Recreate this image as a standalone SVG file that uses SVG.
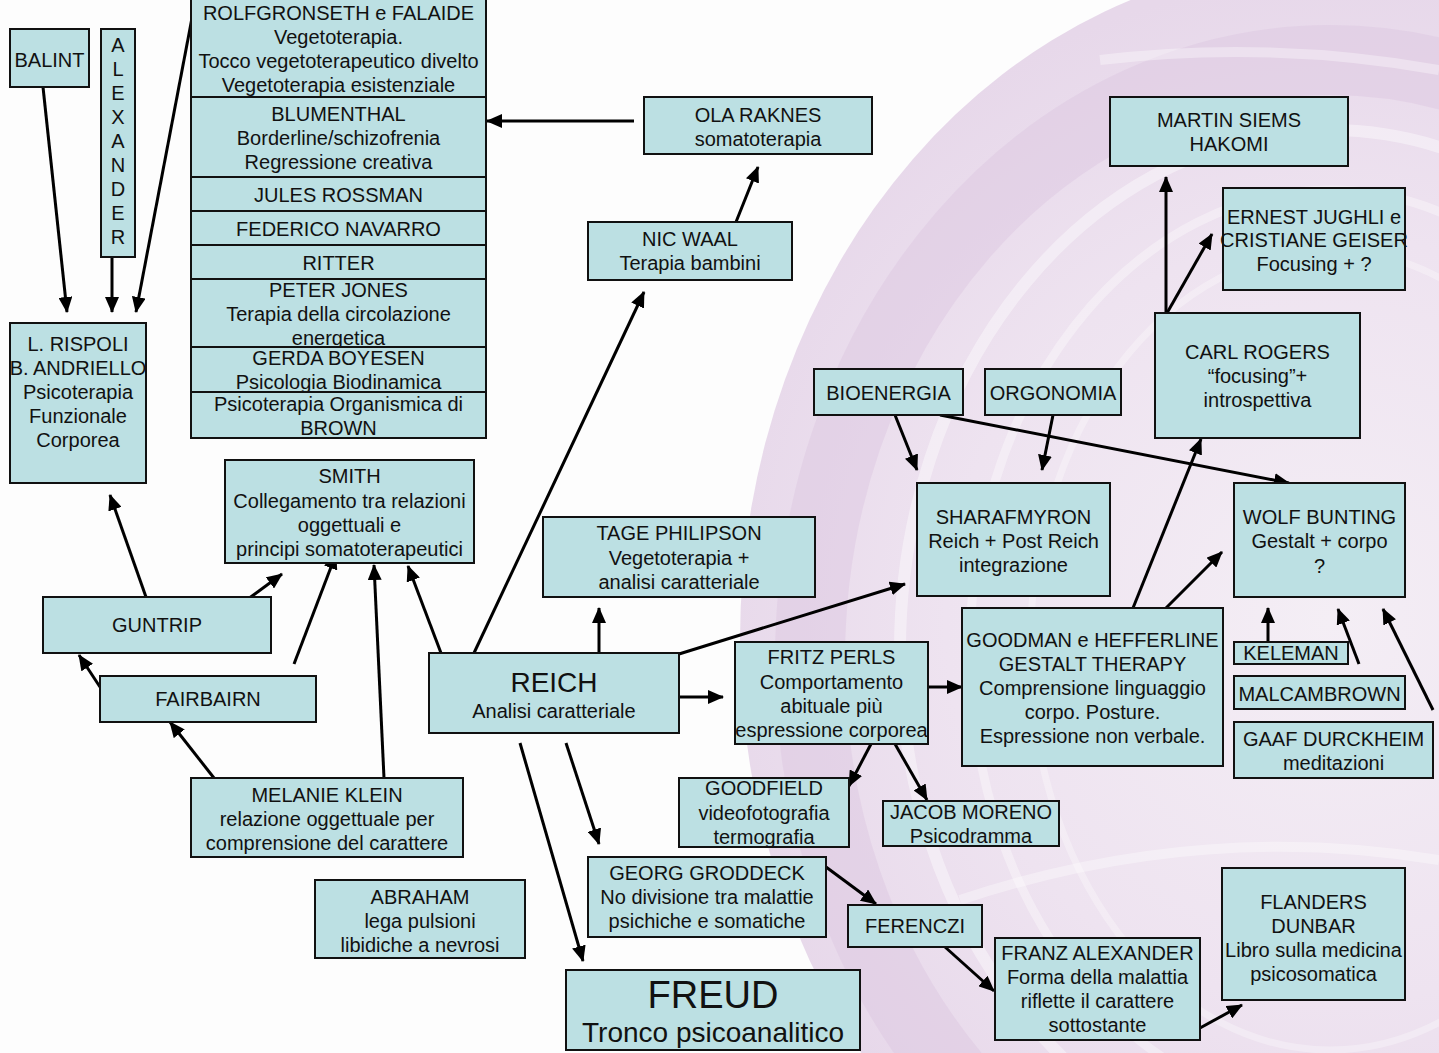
<svg xmlns="http://www.w3.org/2000/svg" width="1439" height="1053" viewBox="0 0 1439 1053">
<defs>
<style>
.n rect{fill:#bce0e3;stroke:#111;stroke-width:2}
text{font-family:"Liberation Sans",Arial,sans-serif;font-size:20px;fill:#111;text-anchor:middle}
.c line{stroke:#000;stroke-width:3;marker-end:url(#ah)}
</style>
<marker id="ah" markerUnits="userSpaceOnUse" viewBox="0 0 16 14" refX="15" refY="7" markerWidth="16" markerHeight="14" orient="auto">
<path d="M0,0 L16,7 L0,14 z" fill="#000"/>
</marker>
<radialGradient id="bg1" cx="1330" cy="620" r="640" gradientUnits="userSpaceOnUse">
<stop offset="0" stop-color="#f4eef5"/>
<stop offset="0.6" stop-color="#eee3f0"/>
<stop offset="1" stop-color="#e7d8ea"/>
</radialGradient>
</defs>
<g id="background">
<rect width="1439" height="1053" fill="#fdfdfd"/>
<ellipse cx="1330" cy="640" rx="590" ry="680" fill="url(#bg1)"/>
<ellipse cx="1330" cy="660" rx="520" ry="600" fill="none" stroke="#dcc6e0" stroke-width="70" opacity="0.45"/>
<ellipse cx="1330" cy="650" rx="430" ry="520" fill="none" stroke="#ffffff" stroke-width="12" opacity="0.4"/>
<ellipse cx="1330" cy="650" rx="360" ry="460" fill="none" stroke="#ffffff" stroke-width="9" opacity="0.35"/>
<ellipse cx="1330" cy="650" rx="300" ry="400" fill="none" stroke="#ffffff" stroke-width="7" opacity="0.3"/>
<path d="M960,900 Q1200,820 1439,860" fill="none" stroke="#ffffff" stroke-width="10" opacity="0.35"/>
<path d="M1100,60 Q1270,40 1439,70" fill="none" stroke="#ffffff" stroke-width="10" opacity="0.35"/>
</g>
<g id="connectors" class="c">
<line x1="43" y1="87" x2="67" y2="312"/>
<line x1="112" y1="257" x2="112" y2="312"/>
<line x1="192" y1="18" x2="136" y2="312"/>
<line x1="634" y1="121" x2="487" y2="121"/>
<line x1="736" y1="222" x2="758" y2="167"/>
<line x1="474" y1="653" x2="644" y2="292"/>
<line x1="441" y1="653" x2="408" y2="566"/>
<line x1="384" y1="778" x2="374" y2="565"/>
<line x1="294" y1="664" x2="336" y2="554"/>
<line x1="237" y1="607" x2="282" y2="574"/>
<line x1="146" y1="597" x2="110" y2="495"/>
<line x1="100" y1="687" x2="79" y2="655"/>
<line x1="214" y1="778" x2="170" y2="722"/>
<line x1="599" y1="653" x2="599" y2="608"/>
<line x1="679" y1="654" x2="905" y2="584"/>
<line x1="679" y1="697" x2="723" y2="697"/>
<line x1="928" y1="687" x2="962" y2="687"/>
<line x1="871" y1="744" x2="849" y2="786"/>
<line x1="895" y1="744" x2="927" y2="800"/>
<line x1="566" y1="743" x2="599" y2="844"/>
<line x1="520" y1="743" x2="583" y2="961"/>
<line x1="826" y1="867" x2="876" y2="904"/>
<line x1="945" y1="947" x2="994" y2="991"/>
<line x1="1200" y1="1028" x2="1242" y2="1005"/>
<line x1="895" y1="415" x2="917" y2="470"/>
<line x1="1053" y1="415" x2="1042" y2="470"/>
<line x1="940" y1="415" x2="1289" y2="483"/>
<line x1="1133" y1="608" x2="1201" y2="439"/>
<line x1="1166" y1="608" x2="1222" y2="552"/>
<line x1="1166" y1="313" x2="1166" y2="177"/>
<line x1="1167" y1="313" x2="1212" y2="234"/>
<line x1="1268" y1="642" x2="1268" y2="608"/>
<line x1="1359" y1="664" x2="1338" y2="609"/>
<line x1="1433" y1="710" x2="1383" y2="609"/>
</g>
<g id="balint" class="n"><rect x="10" y="29" width="79" height="58"/><text x="49.5" y="67">BALINT</text></g>
<g id="alexander" class="n"><rect x="101" y="29" width="34" height="228"/>
<text x="118" y="52">A</text><text x="118" y="76">L</text><text x="118" y="100">E</text><text x="118" y="124">X</text><text x="118" y="148">A</text><text x="118" y="172">N</text><text x="118" y="196">D</text><text x="118" y="220">E</text><text x="118" y="244">R</text></g>
<g id="rispoli" class="n"><rect x="10" y="323" width="136" height="160"/>
<text x="78" y="351">L. RISPOLI</text><text x="78" y="375">B. ANDRIELLO</text><text x="78" y="399">Psicoterapia</text><text x="78" y="423">Funzionale</text><text x="78" y="447">Corporea</text></g>
<g id="rolfgronseth" class="n"><rect x="191" y="-2" width="295" height="99"/>
<text x="338.5" y="20">ROLFGRONSETH e FALAIDE</text><text x="338.5" y="44">Vegetoterapia.</text><text x="338.5" y="68">Tocco vegetoterapeutico divelto</text><text x="338.5" y="92">Vegetoterapia esistenziale</text></g>
<g id="blumenthal" class="n"><rect x="191" y="97" width="295" height="80"/>
<text x="338.5" y="121">BLUMENTHAL</text><text x="338.5" y="145">Borderline/schizofrenia</text><text x="338.5" y="169">Regressione creativa</text></g>
<g id="rossman" class="n"><rect x="191" y="177" width="295" height="34"/><text x="338.5" y="202">JULES ROSSMAN</text></g>
<g id="navarro" class="n"><rect x="191" y="211" width="295" height="34"/><text x="338.5" y="236">FEDERICO NAVARRO</text></g>
<g id="ritter" class="n"><rect x="191" y="245" width="295" height="34"/><text x="338.5" y="270">RITTER</text></g>
<g id="jones" class="n"><rect x="191" y="279" width="295" height="68"/>
<text x="338.5" y="297">PETER JONES</text><text x="338.5" y="321">Terapia della circolazione</text><text x="338.5" y="345">energetica</text></g>
<g id="boyesen" class="n"><rect x="191" y="347" width="295" height="45"/>
<text x="338.5" y="365">GERDA BOYESEN</text><text x="338.5" y="389">Psicologia Biodinamica</text></g>
<g id="brown" class="n"><rect x="191" y="392" width="295" height="46"/>
<text x="338.5" y="411">Psicoterapia Organismica di</text><text x="338.5" y="435">BROWN</text></g>
<g id="raknes" class="n"><rect x="644" y="97" width="228" height="57"/>
<text x="758" y="122">OLA RAKNES</text><text x="758" y="146">somatoterapia</text></g>
<g id="waal" class="n"><rect x="588" y="222" width="204" height="58"/>
<text x="690" y="246">NIC WAAL</text><text x="690" y="270">Terapia bambini</text></g>
<g id="bioenergia" class="n"><rect x="814" y="369" width="149" height="46"/><text x="888.5" y="400">BIOENERGIA</text></g>
<g id="orgonomia" class="n"><rect x="985" y="369" width="136" height="46"/><text x="1053" y="400">ORGONOMIA</text></g>
<g id="siems" class="n"><rect x="1110" y="97" width="238" height="69"/>
<text x="1229" y="127">MARTIN SIEMS</text><text x="1229" y="151">HAKOMI</text></g>
<g id="jughli" class="n"><rect x="1223" y="188" width="182" height="102"/>
<text x="1314" y="224">ERNEST JUGHLI e</text><text x="1314" y="247">CRISTIANE GEISER</text><text x="1314" y="271">Focusing + ?</text></g>
<g id="rogers" class="n"><rect x="1155" y="313" width="205" height="125"/>
<text x="1257.5" y="359">CARL ROGERS</text><text x="1257.5" y="383">“focusing”+</text><text x="1257.5" y="407">introspettiva</text></g>
<g id="sharafmyron" class="n"><rect x="917" y="483" width="193" height="113"/>
<text x="1013.5" y="524">SHARAFMYRON</text><text x="1013.5" y="548">Reich + Post Reich</text><text x="1013.5" y="572">integrazione</text></g>
<g id="bunting" class="n"><rect x="1234" y="483" width="171" height="114"/>
<text x="1319.5" y="524">WOLF BUNTING</text><text x="1319.5" y="548">Gestalt + corpo</text><text x="1319.5" y="573">?</text></g>
<g id="goodman" class="n"><rect x="962" y="608" width="261" height="158"/>
<text x="1092.5" y="647">GOODMAN e HEFFERLINE</text><text x="1092.5" y="671">GESTALT THERAPY</text><text x="1092.5" y="695">Comprensione linguaggio</text><text x="1092.5" y="719">corpo. Posture.</text><text x="1092.5" y="743">Espressione non verbale.</text></g>
<g id="keleman" class="n"><rect x="1234" y="642" width="114" height="22"/><text x="1291" y="660">KELEMAN</text></g>
<g id="malcambrown" class="n"><rect x="1234" y="676" width="171" height="33"/><text x="1319.5" y="701">MALCAMBROWN</text></g>
<g id="durckheim" class="n"><rect x="1234" y="722" width="199" height="56"/>
<text x="1333.5" y="746">GAAF DURCKHEIM</text><text x="1333.5" y="770">meditazioni</text></g>
<g id="philipson" class="n"><rect x="543" y="517" width="272" height="80"/>
<text x="679" y="540">TAGE PHILIPSON</text><text x="679" y="565">Vegetoterapia +</text><text x="679" y="589">analisi caratteriale</text></g>
<g id="reich" class="n"><rect x="429" y="653" width="250" height="80"/>
<text x="554" y="692" style="font-size:28px">REICH</text><text x="554" y="718">Analisi caratteriale</text></g>
<g id="perls" class="n"><rect x="735" y="642" width="193" height="102"/>
<text x="831.5" y="664">FRITZ PERLS</text><text x="831.5" y="689">Comportamento</text><text x="831.5" y="713">abituale più</text><text x="831.5" y="737">espressione corporea</text></g>
<g id="goodfield" class="n"><rect x="679" y="778" width="170" height="69"/>
<text x="764" y="795">GOODFIELD</text><text x="764" y="820">videofotografia</text><text x="764" y="844">termografia</text></g>
<g id="moreno" class="n"><rect x="883" y="801" width="176" height="45"/>
<text x="971" y="819">JACOB MORENO</text><text x="971" y="843">Psicodramma</text></g>
<g id="groddeck" class="n"><rect x="588" y="857" width="238" height="80"/>
<text x="707" y="880">GEORG GRODDECK</text><text x="707" y="904">No divisione tra malattie</text><text x="707" y="928">psichiche e somatiche</text></g>
<g id="abraham" class="n"><rect x="315" y="880" width="210" height="78"/>
<text x="420" y="904">ABRAHAM</text><text x="420" y="928">lega pulsioni</text><text x="420" y="952">libidiche a nevrosi</text></g>
<g id="ferenczi" class="n"><rect x="848" y="905" width="134" height="42"/><text x="915" y="933">FERENCZI</text></g>
<g id="franzalexander" class="n"><rect x="995" y="938" width="205" height="102"/>
<text x="1097.5" y="960">FRANZ ALEXANDER</text><text x="1097.5" y="984">Forma della malattia</text><text x="1097.5" y="1008">riflette il carattere</text><text x="1097.5" y="1032">sottostante</text></g>
<g id="dunbar" class="n"><rect x="1222" y="868" width="183" height="132"/>
<text x="1313.5" y="909">FLANDERS</text><text x="1313.5" y="933">DUNBAR</text><text x="1313.5" y="957">Libro sulla medicina</text><text x="1313.5" y="981">psicosomatica</text></g>
<g id="freud" class="n"><rect x="566" y="970" width="294" height="80"/>
<text x="713" y="1008" style="font-size:38px">FREUD</text><text x="713" y="1042" style="font-size:28px">Tronco psicoanalitico</text></g>
<g id="klein" class="n"><rect x="191" y="778" width="272" height="79"/>
<text x="327" y="802">MELANIE KLEIN</text><text x="327" y="826">relazione oggettuale per</text><text x="327" y="850">comprensione del carattere</text></g>
<g id="fairbairn" class="n"><rect x="100" y="676" width="216" height="46"/><text x="208" y="706">FAIRBAIRN</text></g>
<g id="guntrip" class="n"><rect x="43" y="597" width="228" height="56"/><text x="157" y="632">GUNTRIP</text></g>
<g id="smith" class="n"><rect x="225" y="460" width="249" height="103"/>
<text x="349.5" y="483">SMITH</text><text x="349.5" y="508">Collegamento tra relazioni</text><text x="349.5" y="532">oggettuali e</text><text x="349.5" y="556">principi somatoterapeutici</text></g>
</svg>
